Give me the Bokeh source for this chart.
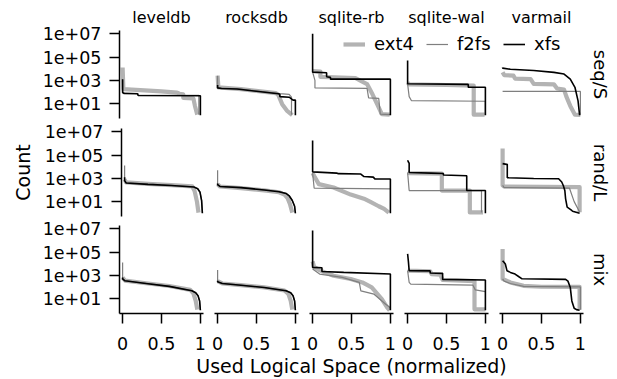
import math
from bokeh.plotting import figure
from bokeh.models import Range1d, FixedTicker, Label, Legend, LegendItem
from bokeh.embed import file_html
from bokeh.resources import INLINE

# ---------------- categories / ticks ----------------
workloads = ["leveldb", "rocksdb", "sqlite-rb", "sqlite-wal", "varmail"]
workload_keys = ["leveldb", "rocksdb", "sqlite_rb", "sqlite_wal", "varmail"]
patterns = ["seq/S", "rand/L", "mix"]
pattern_keys = ["seq", "rand", "mix"]
filesystems = ["ext4", "f2fs", "xfs"]
x_ticks = [0, 0.5, 1]
x_tick_labels = ["0", "0.5", "1"]
y_ticks = [10, 1000, 100000, 10000000]
y_tick_labels = ["1e+01", "1e+03", "1e+05", "1e+07"]

# ---------------- data: x = used logical space (normalized), log10(count) ----------------
# seq/S
seq_leveldb_ext4_x = [0, 0.01, 0.5, 0.7, 0.73, 0.78, 0.78, 0.91, 0.93, 0.96]
seq_leveldb_ext4_log10 = [4.1, 2.25, 2.05, 1.95, 1.85, 1.8, 1.5, 1.45, 0.8, 0.05]
seq_leveldb_f2fs_x = [0, 0, 0.2, 0.2, 0.98, 0.98]
seq_leveldb_f2fs_log10 = [3.0, 1.95, 1.85, 1.72, 1.7, 0.05]
seq_leveldb_xfs_x = [0, 0, 0.02, 0.19, 0.2, 1.0, 1.0]
seq_leveldb_xfs_log10 = [3.1, 1.95, 1.87, 1.85, 1.7, 1.67, 0.0]

seq_rocksdb_ext4_x = [0, 0.01, 0.3, 0.75, 0.78, 0.83, 0.89, 0.96]
seq_rocksdb_ext4_log10 = [3.4, 2.4, 2.25, 1.9, 1.75, 0.95, 0.4, 0.02]
seq_rocksdb_f2fs_x = [0, 0, 0.3, 0.8, 0.92, 0.95, 0.95]
seq_rocksdb_f2fs_log10 = [3.4, 2.35, 2.25, 1.85, 1.8, 1.55, 0.05]
seq_rocksdb_xfs_x = [0, 0, 0.05, 0.25, 0.78, 0.8, 0.8, 0.92, 0.97, 1.0, 1.0]
seq_rocksdb_xfs_log10 = [2.6, 2.35, 2.3, 2.25, 1.85, 1.8, 1.6, 1.55, 1.3, 1.3, 0.0]

seq_sqlite_rb_ext4_x = [0, 0.1, 0.1, 0.55, 0.62, 0.7, 0.77, 0.83, 0.89, 0.99]
seq_sqlite_rb_ext4_log10 = [3.8, 3.75, 3.3, 3.2, 2.95, 2.68, 1.8, 0.95, 0.09, 0.05]
seq_sqlite_rb_f2fs_x = [0, 0.03, 0.03, 0.7, 0.72, 0.85, 0.87, 1.0]
seq_sqlite_rb_f2fs_log10 = [3.7, 3.0, 2.35, 2.3, 1.5, 1.45, 0.1, 0.05]
seq_sqlite_rb_xfs_x = [0, 0, 0.18, 0.18, 0.23, 0.23, 1.0, 1.0]
seq_sqlite_rb_xfs_log10 = [7.0, 3.7, 3.65, 3.3, 3.25, 3.1, 3.1, 0.0]

seq_sqlite_wal_ext4_x = [0, 0.02, 0.5, 0.85, 0.85, 0.99]
seq_sqlite_wal_ext4_log10 = [2.8, 2.65, 2.6, 2.55, 0.05, 0.05]
seq_sqlite_wal_f2fs_x = [0, 0.02, 0.05, 1.0, 1.0]
seq_sqlite_wal_f2fs_log10 = [2.7, 1.6, 1.25, 1.2, 0.05]
seq_sqlite_wal_xfs_x = [0, 0, 0.78, 0.78, 1.0, 1.0]
seq_sqlite_wal_xfs_log10 = [4.7, 2.7, 2.65, 2.4, 2.4, 0.0]

seq_varmail_ext4_x = [0, 0.02, 0.14, 0.16, 0.36, 0.40, 0.66, 0.70, 0.79, 0.82, 0.87, 0.93, 1.0]
seq_varmail_ext4_log10 = [3.7, 3.45, 3.4, 3.15, 3.1, 2.7, 2.65, 2.3, 2.2, 1.6, 0.8, 0.05, 0.02]
seq_varmail_f2fs_x = [0, 1.0, 1.0]
seq_varmail_f2fs_log10 = [2.05, 2.05, 0.05]
seq_varmail_xfs_x = [0, 0, 0.1, 0.4, 0.66, 0.79, 0.87, 0.93, 0.97, 0.99]
seq_varmail_xfs_log10 = [4.11, 4.05, 3.95, 3.85, 3.68, 3.54, 3.1, 2.4, 1.24, 0.0]

# rand/L
rand_leveldb_ext4_x = [0, 0.02, 0.3, 0.6, 0.87, 0.9, 0.93, 0.95]
rand_leveldb_ext4_log10 = [2.9, 2.65, 2.52, 2.42, 2.3, 1.9, 1.0, 0.05]
rand_leveldb_f2fs_x = [0, 0, 0.02, 0.3, 0.6, 0.89, 0.94, 0.97, 0.99, 1.0]
rand_leveldb_f2fs_log10 = [4.1, 2.8, 2.62, 2.5, 2.4, 2.27, 2.1, 1.8, 1.1, 0.02]
rand_leveldb_xfs_x = [0, 0, 0.02, 0.3, 0.6, 0.89, 0.94, 0.97, 0.99, 1.0]
rand_leveldb_xfs_log10 = [3.1, 2.8, 2.6, 2.48, 2.38, 2.25, 2.1, 1.8, 1.09, 0.0]

rand_rocksdb_ext4_x = [0, 0.03, 0.3, 0.6, 0.79, 0.86, 0.9, 0.93, 0.96]
rand_rocksdb_ext4_log10 = [2.5, 2.3, 2.15, 1.97, 1.8, 1.6, 1.3, 0.8, 0.05]
rand_rocksdb_f2fs_x = [0, 0, 0.03, 0.3, 0.6, 0.79, 0.88, 0.92, 0.96, 0.99, 1.0]
rand_rocksdb_f2fs_log10 = [3.7, 2.45, 2.3, 2.2, 2.0, 1.85, 1.7, 1.5, 1.1, 0.6, 0.0]
rand_rocksdb_xfs_x = [0, 0, 0.03, 0.3, 0.6, 0.79, 0.88, 0.92, 0.96, 0.99, 1.0]
rand_rocksdb_xfs_log10 = [2.55, 2.45, 2.3, 2.2, 2.0, 1.85, 1.7, 1.5, 1.1, 0.6, 0.0]

rand_sqlite_rb_ext4_x = [0, 0.02, 0.08, 0.27, 0.49, 0.66, 0.75, 0.85, 0.92, 0.98]
rand_sqlite_rb_ext4_log10 = [3.45, 3.2, 2.5, 2.21, 1.6, 1.25, 0.95, 0.6, 0.37, 0.05]
rand_sqlite_rb_f2fs_x = [0, 0.02, 1.0]
rand_sqlite_rb_f2fs_log10 = [3.45, 2.15, 2.1]
rand_sqlite_rb_xfs_x = [0, 0, 0.31, 0.33, 0.62, 0.66, 0.78, 0.8, 1.0, 1.0]
rand_sqlite_rb_xfs_log10 = [6.25, 3.55, 3.45, 3.4, 3.37, 3.15, 3.1, 2.95, 2.94, 0.0]

rand_sqlite_wal_ext4_x = [0, 0.02, 0.44, 0.44, 0.8, 0.8, 0.97]
rand_sqlite_wal_ext4_log10 = [3.5, 3.45, 3.4, 1.95, 1.95, 0.07, 0.07]
rand_sqlite_wal_f2fs_x = [0, 0.02, 0.95, 0.95]
rand_sqlite_wal_f2fs_log10 = [3.5, 1.95, 1.95, 0.07]
rand_sqlite_wal_xfs_x = [0, 0.01, 0.02, 0.02, 0.3, 0.46, 0.46, 0.76, 0.76, 1.0, 1.0]
rand_sqlite_wal_xfs_log10 = [4.55, 4.4, 4.3, 3.5, 3.45, 3.42, 3.28, 3.22, 1.95, 1.95, 0.0]

rand_varmail_ext4_x = [0, 0, 0.02, 0.99, 0.99]
rand_varmail_ext4_log10 = [5.56, 2.4, 2.3, 2.25, 0.08]
rand_varmail_f2fs_x = [0, 0.02, 0.86, 0.92, 0.99]
rand_varmail_f2fs_log10 = [2.4, 2.2, 2.15, 1.0, 0.1]
rand_varmail_xfs_x = [0, 0.05, 0.06, 0.06, 0.4, 0.72, 0.76, 0.78, 0.8, 0.81, 0.83, 0.88, 0.9, 0.99]
rand_varmail_xfs_log10 = [4.26, 4.2, 4.2, 3.05, 2.98, 2.96, 2.68, 2.38, 1.95, 1.24, 0.52, 0.29, 0.17, 0.0]

# mix
mix_leveldb_ext4_x = [0, 0.03, 0.3, 0.6, 0.87, 0.91, 0.94, 0.96]
mix_leveldb_ext4_log10 = [2.8, 2.55, 2.32, 2.08, 1.75, 1.45, 0.8, 0.05]
mix_leveldb_f2fs_x = [0, 0, 0.03, 0.3, 0.6, 0.89, 0.94, 0.97, 0.99, 1.0]
mix_leveldb_f2fs_log10 = [4.11, 2.7, 2.53, 2.3, 2.05, 1.68, 1.5, 1.24, 0.8, 0.02]
mix_leveldb_xfs_x = [0, 0, 0.03, 0.3, 0.6, 0.89, 0.94, 0.97, 0.99, 1.0]
mix_leveldb_xfs_log10 = [2.82, 2.7, 2.53, 2.3, 2.05, 1.67, 1.5, 1.24, 0.8, 0.0]

mix_rocksdb_ext4_x = [0, 0.06, 0.3, 0.6, 0.86, 0.91, 0.94, 0.96]
mix_rocksdb_ext4_log10 = [2.5, 2.3, 2.15, 1.97, 1.7, 1.4, 0.8, 0.05]
mix_rocksdb_f2fs_x = [0, 0, 0.06, 0.3, 0.6, 0.88, 0.94, 0.97, 0.99, 1.0]
mix_rocksdb_f2fs_log10 = [3.45, 2.45, 2.3, 2.15, 1.95, 1.67, 1.5, 1.24, 0.8, 0.02]
mix_rocksdb_xfs_x = [0, 0, 0.06, 0.3, 0.6, 0.88, 0.94, 0.97, 0.99, 1.0]
mix_rocksdb_xfs_log10 = [2.53, 2.45, 2.3, 2.15, 1.95, 1.67, 1.5, 1.24, 0.8, 0.0]

mix_sqlite_rb_ext4_x = [0, 0.02, 0.1, 0.27, 0.49, 0.64, 0.76, 0.89, 0.96, 0.99]
mix_sqlite_rb_ext4_log10 = [4.2, 3.7, 3.4, 2.96, 2.68, 2.39, 1.96, 0.95, 0.22, 0.0]
mix_sqlite_rb_f2fs_x = [0, 0.09, 0.38, 0.6, 0.62, 0.79, 0.94, 1.0]
mix_sqlite_rb_f2fs_log10 = [3.55, 3.11, 2.82, 2.39, 1.67, 1.38, 0.52, 0.22]
mix_sqlite_rb_xfs_x = [0, 0, 0.12, 0.12, 0.4, 1.0, 1.0]
mix_sqlite_rb_xfs_log10 = [6.85, 3.68, 3.65, 3.33, 3.25, 3.11, 0.0]

mix_sqlite_wal_ext4_x = [0, 0.02, 0.29, 0.31, 0.42, 0.45, 0.86, 0.86, 1.0]
mix_sqlite_wal_ext4_log10 = [3.45, 3.4, 3.35, 3.1, 3.05, 2.6, 2.5, 0.08, 0.08]
mix_sqlite_wal_f2fs_x = [0, 0.02, 0.04, 0.84, 0.87, 1.0]
mix_sqlite_wal_f2fs_log10 = [3.4, 2.4, 2.25, 2.15, 1.75, 1.6]
mix_sqlite_wal_xfs_x = [0, 0.01, 0.02, 0.29, 0.29, 0.45, 0.45, 1.0, 1.0]
mix_sqlite_wal_xfs_log10 = [4.84, 4.2, 3.4, 3.38, 3.2, 3.17, 2.65, 2.6, 0.0]

mix_varmail_ext4_x = [0, 0, 0.1, 0.27, 0.5, 0.99, 0.99]
mix_varmail_ext4_log10 = [5.27, 2.7, 2.39, 2.1, 2.02, 2.0, 0.05]
mix_varmail_f2fs_x = [0, 0.02, 0.1, 0.27, 1.0, 1.0]
mix_varmail_f2fs_log10 = [2.7, 2.5, 2.3, 2.05, 2.0, 0.05]
mix_varmail_xfs_x = [0, 0.02, 0.035, 0.056, 0.1, 0.16, 0.21, 0.25, 0.81, 0.84, 0.87, 0.89, 0.92, 0.95, 0.99]
mix_varmail_xfs_log10 = [4.26, 4.1, 3.97, 3.4, 3.25, 3.11, 2.88, 2.7, 2.65, 2.5, 1.96, 0.8, 0.17, 0.05, 0.0]

# ---------------- styling / geometry ----------------
FONT = "DejaVu Sans"
fs_style = {
    "ext4": dict(line_color="#b3b3b3", line_width=4.2, line_join="round"),
    "f2fs": dict(line_color="#7f7f7f", line_width=1.2),
    "xfs": dict(line_color="#000000", line_width=1.6),
}
X_LO, X_HI = -0.04, 1.04
LOG_LO, LOG_HI = -0.28, 7.28
PANEL_W, PANEL_H = 84, 88
PX_PER_X = PANEL_W / (X_HI - X_LO)
PX_PER_DEC = PANEL_H / (LOG_HI - LOG_LO)
TITLE_H = 22      # strip above the top row that holds the column names
SIDE_W = 26       # strip right of the last column that holds the row names
PAGE = 8          # body margin
col_left = [111, 206, 301, 396, 491]   # panel left edges inside the page
row_top = [22, 120, 217]               # panel top edges inside the page


def style_axis(ax, ticks, labels):
    ax.ticker = FixedTicker(ticks=ticks)
    ax.major_label_overrides = {t: l for t, l in zip(ticks, labels)}
    ax.minor_tick_line_color = None
    ax.major_tick_in = 0
    ax.major_tick_out = 10
    ax.axis_line_width = 1.5
    ax.major_tick_line_width = 1.5
    ax.axis_line_color = "black"
    ax.major_tick_line_color = "black"
    ax.major_label_text_font = FONT
    ax.major_label_text_font_size = "17.5px"
    ax.major_label_text_color = "black"
    ax.axis_label_text_font = FONT
    ax.axis_label_text_font_size = "19px"
    ax.axis_label_text_font_style = "normal"
    ax.axis_label_text_color = "black"


figs = []
first_panel = {}
for r, (pat, pkey) in enumerate(zip(patterns, pattern_keys)):
    for c, (wl, wkey) in enumerate(zip(workloads, workload_keys)):
        extra_top = TITLE_H if r == 0 else 0
        extra_right = SIDE_W if c == 4 else 0
        LB = 111 if c == 0 else 6
        RB = 5
        TB = 0 if r == 0 else 5
        BB = 66 if r == 2 else 5
        if r == 2 and c == 2:
            LB, RB = 120, 125
        x_hi = X_HI + extra_right / PX_PER_X
        log_hi = LOG_HI + extra_top / PX_PER_DEC
        p = figure(
            frame_width=PANEL_W + extra_right, frame_height=PANEL_H + extra_top,
            min_border_left=LB, min_border_right=RB,
            min_border_top=TB, min_border_bottom=BB,
            x_range=Range1d(X_LO, x_hi), y_range=Range1d(10 ** LOG_LO, 10 ** log_hi),
            y_axis_type="log",
            x_axis_location="below" if r == 2 else None,
            y_axis_location="left" if c == 0 else None,
            toolbar_location=None, output_backend="svg",
            background_fill_color=None, border_fill_color=None,
            outline_line_color=None,
            styles={"position": "absolute",
                    "left": f"{PAGE + col_left[c] - LB}px",
                    "top": f"{PAGE + row_top[r] - extra_top - TB}px"},
        )
        p.xgrid.visible = False
        p.ygrid.visible = False
        if r == 2:
            ax = p.xaxis[0]
            style_axis(ax, x_ticks, x_tick_labels)
            ax.bounds = (X_LO, X_HI)
            ax.major_label_standoff = 13
            if c == 2:
                ax.axis_label = "Used Logical Space (normalized)"
                ax.axis_label_standoff = 2
        if c == 0:
            ay = p.yaxis[0]
            style_axis(ay, y_ticks, y_tick_labels)
            ay.bounds = (10 ** LOG_LO, 10 ** LOG_HI)
            ay.major_label_standoff = 8
            if r == 1:
                ay.axis_label = "Count"
                ay.axis_label_standoff = 8

        for fsname in filesystems:
            xs = globals()[f"{pkey}_{wkey}_{fsname}_x"]
            lg = globals()[f"{pkey}_{wkey}_{fsname}_log10"]
            ys = [10 ** v for v in lg]
            p.line(xs, ys, **fs_style[fsname])
            first_panel.setdefault(fsname, (xs, ys))

        if r == 0:
            p.add_layout(Label(x=(X_LO + X_HI) / 2, y=10 ** LOG_HI, text=wl,
                               text_align="center", text_baseline="alphabetic", y_offset=13,
                               text_font=FONT, text_font_size="16px", text_color="black"))
        if c == 4:
            p.add_layout(Label(x=X_HI, y=10 ** ((LOG_LO + LOG_HI) / 2), text=pat,
                               text_align="center", text_baseline="middle",
                               x_offset=17, angle=-math.pi / 2,
                               text_font=FONT, text_font_size="18px", text_color="black"))
        figs.append(p)

# legend: its own transparent panel laid over the top row.  The legend
# renderers carry a real series but this panel's ranges keep it out of view.
LEG_LEFT, LEG_TOP, LEG_W, LEG_H = 330, 20, 235, 32
lp = figure(frame_width=LEG_W, frame_height=LEG_H,
            min_border_left=0, min_border_right=0, min_border_top=0, min_border_bottom=0,
            x_range=Range1d(5, 6), y_range=Range1d(5, 6),
            x_axis_location=None, y_axis_location=None,
            toolbar_location=None, output_backend="svg",
            background_fill_color=None, border_fill_color=None, outline_line_color=None,
            styles={"position": "absolute", "left": f"{PAGE + LEG_LEFT}px",
                    "top": f"{PAGE + LEG_TOP}px"})
lp.xgrid.visible = False
lp.ygrid.visible = False
leg_offsets = {"ext4": 5, "f2fs": 88, "xfs": 165}
for f in filesystems:
    xs, ys = first_panel[f]
    rr = lp.line(xs, ys, **fs_style[f])
    lg_ = Legend(items=[LegendItem(label=f, renderers=[rr])],
                 orientation="horizontal", location=(leg_offsets[f], 6),
                 padding=0, margin=0, spacing=0, label_standoff=9,
                 glyph_width=22, glyph_height=20,
                 border_line_color=None, background_fill_alpha=0,
                 label_text_font=FONT, label_text_font_size="18px",
                 label_text_color="black")
    lp.add_layout(lg_, "center")
figs.append(lp)

open("out.html", "w").write(file_html(figs, INLINE))
